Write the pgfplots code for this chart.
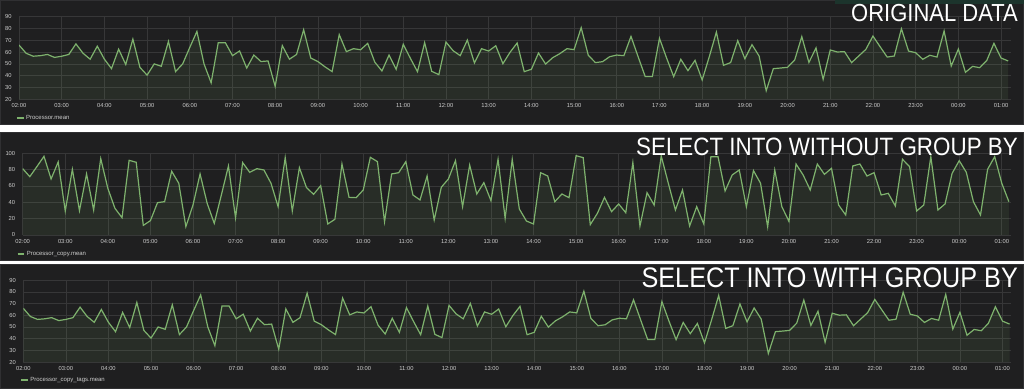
\documentclass[border=0pt]{standalone}
\usepackage{fontspec}
\setmainfont{Liberation Sans}
\usepackage{graphicx}
\usepackage{pgfplots}
\pgfplotsset{compat=1.18}
\usepackage{pgfplotstable}

\definecolor{panelbg}{RGB}{31,31,32}
\definecolor{gridc}{RGB}{55,55,56}
\definecolor{labc}{RGB}{205,205,205}
\definecolor{gline}{RGB}{126,178,109}
\definecolor{topbar}{RGB}{28,52,44}
\definecolor{borderc}{RGB}{48,48,50}

% minutes after 02:00, value
\pgfplotstableread{
t v
0 66
10 59
20 56.5
30 57
40 58
50 55.5
60 56.5
70 58
80 67
90 59
100 54
110 65
120 54
130 46
140 62.5
150 49.5
160 71
170 47
180 40.5
190 50
200 48
210 69
220 43.5
230 50
240 64
250 77.5
260 50
270 34
280 68
290 68
300 57
310 61
320 46.5
330 57.5
340 52
350 52.5
360 31
370 65.5
380 54
390 58
400 79
410 55
420 52
430 47.5
440 43.5
450 74.8
460 60.4
470 62.9
480 62
490 67.4
500 51.5
510 44
520 57.5
530 45.4
540 66.6
550 54.7
560 43.4
570 68
580 43.7
590 40.9
600 68.5
610 61.2
620 57
630 70.2
640 50.8
650 62.9
660 60.9
670 65.4
680 50.2
690 59.8
700 67.7
710 43.4
720 45.4
730 59.2
740 49.9
750 55.3
760 58.7
770 62.9
780 62.1
790 80.7
800 57.3
810 51.1
820 51.9
830 56.1
840 57.5
850 57
860 73.3
870 56.1
880 39.2
890 39.2
900 71.7
910 55
920 39.2
930 53.9
940 44.3
950 53
960 36.4
970 56.1
980 77
990 48.8
1000 51.1
1010 69.7
1020 54.4
1030 66.3
1040 56.7
1050 27.3
1060 46
1070 46.5
1080 47.1
1090 53.3
1100 73.1
1110 51.3
1120 63.5
1130 36.9
1140 61.8
1150 60.1
1160 60.4
1170 51.1
1180 56.7
1190 62.3
1200 73.6
1210 64.6
1220 55.8
1230 56.7
1240 79.8
1250 60.9
1260 59.5
1270 53.9
1280 57.3
1290 55.8
1300 77.9
1310 48.2
1320 62.6
1330 42.9
1340 47.9
1350 46.8
1360 53
1370 67.4
1380 55
1390 52.5
}\dataorig

\pgfplotstableread{
t v
0 81.2
10 71.4
20 83.7
30 96.3
40 68.6
50 89.4
60 29.4
70 80.4
80 29.8
90 74.7
100 30.6
110 93.5
120 57.1
130 32.7
140 21.2
150 91.4
160 89
170 11.8
180 17.6
190 39.6
200 40.8
210 78
220 63.3
230 10.2
240 36.7
250 74.7
260 38.8
270 14.3
280 49
290 84.5
300 21.2
310 88.6
320 76.7
330 81.2
340 79.6
350 63.3
360 34.7
370 94.7
380 29.4
390 82.4
400 58
410 49.8
420 60.4
430 13.5
440 19.2
450 86.9
460 46.1
470 45.7
480 55.1
490 95.1
500 89.8
510 16.3
520 74.7
530 76.3
540 89.8
550 49
560 42.9
570 72.2
580 18.4
590 58.4
600 68.6
610 91
620 34.7
630 85.7
640 50.2
650 64.1
660 42
670 92.7
680 20.4
690 92.7
700 31.8
710 17.1
720 13.5
730 76.3
740 72.2
750 40.8
760 50.2
770 45.7
780 97.1
790 94.7
800 12.7
810 26.5
820 46.1
830 28.6
840 38
850 27.3
860 88.6
870 11
880 51.8
890 36.7
900 96.7
910 63.3
920 30.6
930 55.1
940 11
950 34.7
960 13.5
970 95.9
980 95.9
990 53.9
1000 73.5
1010 79.6
1020 34.7
1030 78.8
1040 63.3
1050 10.2
1060 79.6
1070 34.7
1080 16.7
1090 86.9
1100 73.5
1110 55.1
1120 86.9
1130 74.3
1140 81.6
1150 36.7
1160 24.5
1170 84.5
1180 86.9
1190 72.2
1200 76.3
1210 49
1220 51
1230 35.5
1240 92.7
1250 83.7
1260 29.4
1270 36.7
1280 95.9
1290 30.6
1300 38
1310 75.5
1320 91
1330 76.7
1340 40.8
1350 24.5
1360 80.4
1370 95.9
1380 63.3
1390 40.8
}\datacopy

\pgfplotsset{
  grafana/.style={
    scale only axis,
    anchor=south west,
    axis line style={draw=none},
    major tick length=0pt,
    grid=major,
    grid style={gridc, line width=0.6pt},
    xmin=0,
    xtick={0,60,...,1380},
    xticklabels={02:00,03:00,04:00,05:00,06:00,07:00,08:00,09:00,10:00,11:00,12:00,13:00,14:00,15:00,16:00,17:00,18:00,19:00,20:00,21:00,22:00,23:00,00:00,01:00},
    tick label style={font=\fontsize{5.8}{6}\selectfont, text=labc},
    /pgf/number format/assume math mode=true,
    xticklabel style={inner sep=0pt, anchor=north, yshift=-4pt},
    yticklabel style={inner sep=0pt, anchor=east, xshift=-7.3pt},
    legend style={draw=none, fill=none, font=\fontsize{6}{6}\selectfont,
      text=labc, inner sep=0pt, outer sep=0pt, anchor=west,
      at={(axis description cs:0,0)}, nodes={inner sep=1.5pt}},
    legend image code/.code={\draw[line width=2pt] (0pt,0pt) -- (6.6pt,0pt);},
  },
}

\begin{document}
\begin{tikzpicture}[x=1pt,y=1pt]
\useasboundingbox (0,0) rectangle (1024,389);
\fill[white] (0,0) rectangle (1024,389);
\fill[panelbg, draw=borderc, line width=0.8pt] (0.4,264.4) rectangle (1023.6,388.6);
\fill[panelbg, draw=borderc, line width=0.8pt] (0.4,128.4) rectangle (1023.6,256.6);
\fill[panelbg, draw=borderc, line width=0.8pt] (0.4,0.4) rectangle (1023.6,124.6);
\fill[topbar] (835,385) rectangle (1024,389);

% Panel 1
\begin{axis}[grafana, at={(19pt,289.7pt)}, width=992pt, height=82.6pt,
  xmax=1394, ymin=20, ymax=90, ytick={20,30,...,90},
  legend style={xshift=-3pt, yshift=-18.4pt}]
\addplot[fill=gline, fill opacity=0.1, draw=none, forget plot] table[x=t,y=v]{\dataorig} \closedcycle;
\addplot[gline, line width=1.2pt] table[x=t,y=v]{\dataorig};
\addlegendentry{Processor.mean}
\end{axis}

% Panel 2
\begin{axis}[grafana, at={(22.7pt,154pt)}, width=988.3pt, height=81.7pt,
  xmax=1393, ymin=0, ymax=100, ytick={0,20,...,100},
  legend style={xshift=-6pt, yshift=-19pt}]
\addplot[fill=gline, fill opacity=0.1, draw=none, forget plot] table[x=t,y=v]{\datacopy} \closedcycle;
\addplot[gline, line width=1.2pt] table[x=t,y=v]{\datacopy};
\addlegendentry{Processor\_copy.mean}
\end{axis}

% Panel 3
\begin{axis}[grafana, at={(23.3pt,27pt)}, width=987.7pt, height=81.7pt,
  xmax=1392, ymin=20, ymax=90, ytick={20,30,...,90},
  legend style={xshift=-3pt, yshift=-18.3pt}]
\addplot[fill=gline, fill opacity=0.1, draw=none, forget plot] table[x=t,y=v]{\dataorig} \closedcycle;
\addplot[gline, line width=1.2pt] table[x=t,y=v]{\dataorig};
\addlegendentry{Processor\_copy\_tags.mean}
\end{axis}

\node[anchor=north east, inner sep=0pt, text=white, font=\fontsize{22}{22}\selectfont] at (1018,385) {\scalebox{1}[1.12]{ORIGINAL DATA}};
\node[anchor=north east, inner sep=0pt, text=white, font=\fontsize{22.4}{22}\selectfont] at (1018,251) {\scalebox{1}[1.12]{SELECT INTO WITHOUT GROUP BY}};
\node[anchor=north east, inner sep=0pt, text=white, font=\fontsize{25.2}{25}\selectfont] at (1018,121) {\scalebox{1}[1.12]{SELECT INTO WITH GROUP BY}};
\end{tikzpicture}
\end{document}
